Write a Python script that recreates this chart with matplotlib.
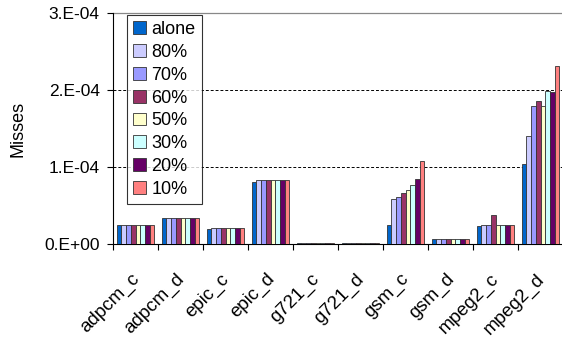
import numpy as np
import matplotlib.pyplot as plt
import matplotlib.transforms as mtransforms
from matplotlib.ticker import FixedLocator

plt.rcParams['font.family'] = ['Liberation Sans', 'DejaVu Sans']

benchmarks = ['adpcm_c', 'adpcm_d', 'epic_c', 'epic_d', 'g721_c',
              'g721_d', 'gsm_c', 'gsm_d', 'mpeg2_c', 'mpeg2_d']
series = ['alone', '80%', '70%', '60%', '50%', '30%', '20%', '10%']
colors = ['#0066CC', '#CCCCFF', '#9999FF', '#993366',
          '#FFFFCC', '#CCFFFF', '#660066', '#FF8080']

# misses per benchmark, one row per series (units of 1e-4)
alone = [0.243, 0.342, 0.190, 0.805, 0.010, 0.017, 0.243, 0.069, 0.234, 1.043]
p80 = [0.243, 0.342, 0.204, 0.827, 0.010, 0.017, 0.584, 0.069, 0.243, 1.398]
p70 = [0.243, 0.342, 0.204, 0.827, 0.010, 0.017, 0.610, 0.069, 0.243, 1.792]
p60 = [0.243, 0.342, 0.204, 0.827, 0.010, 0.017, 0.658, 0.069, 0.372, 1.861]
p50 = [0.243, 0.342, 0.204, 0.827, 0.010, 0.017, 0.700, 0.069, 0.243, 1.788]
p30 = [0.243, 0.342, 0.204, 0.827, 0.010, 0.017, 0.766, 0.069, 0.243, 1.983]
p20 = [0.243, 0.342, 0.204, 0.827, 0.010, 0.017, 0.848, 0.069, 0.243, 1.970]
p10 = [0.243, 0.342, 0.204, 0.827, 0.010, 0.017, 1.082, 0.069, 0.243, 2.316]
data = np.array([alone, p80, p70, p60, p50, p30, p20, p10]) * 1e-4

fig = plt.figure(figsize=(5.62, 3.43), dpi=100)
ax = fig.add_axes([113 / 562, 1 - 244 / 343, 450 / 562, 231 / 343])

x = np.arange(len(benchmarks))
w = 0.105
for i, (name, col) in enumerate(zip(series, colors)):
    ax.bar(x + (i - 3.5) * w, data[i], w, color=col, edgecolor='#333333',
           linewidth=0.6, label=name, zorder=3)

ax.set_xlim(-0.5, len(benchmarks) - 0.5)
ax.set_ylim(0, 3e-4)
ax.set_yticks([0, 1e-4, 2e-4, 3e-4])
ax.set_yticklabels(['0.E+00', '1.E-04', '2.E-04', '3.E-04'], fontsize=12.5)

# gridlines: dashed in the middle, plain grey on top
for yv in [1e-4, 2e-4]:
    ax.axhline(yv, linestyle=(0, (3, 2)), color='black', linewidth=0.7, zorder=1)
ax.axhline(3e-4, color='#888888', linewidth=0.9, zorder=1, clip_on=False)

ax.set_xticks(x)
ax.set_xticklabels(benchmarks, rotation=45, ha='right',
                   rotation_mode='anchor', fontsize=13.5)
ax.tick_params(axis='x', length=0, pad=19)
shift = mtransforms.ScaledTranslation(-5 / 100, 0, fig.dpi_scale_trans)
for lbl in ax.get_xticklabels():
    lbl.set_transform(lbl.get_transform() + shift)
ax.xaxis.set_minor_locator(FixedLocator(np.arange(-0.5, len(benchmarks), 1)))
ax.tick_params(axis='x', which='minor', length=4.5, width=0.8)
ax.tick_params(axis='y', length=4.5, width=0.8, pad=5)

for s in ['top', 'right']:
    ax.spines[s].set_visible(False)
ax.set_ylabel('Misses', fontsize=13, labelpad=13)

leg = ax.legend(loc='upper left', bbox_to_anchor=(0.03, 0.992), fontsize=13,
                frameon=True, fancybox=False, edgecolor='black',
                handlelength=0.72, handleheight=0.72, handletextpad=0.3,
                labelspacing=0.32, borderpad=0.35, borderaxespad=0)
leg.get_frame().set_linewidth(0.8)

fig.savefig('out.png', dpi=100)
